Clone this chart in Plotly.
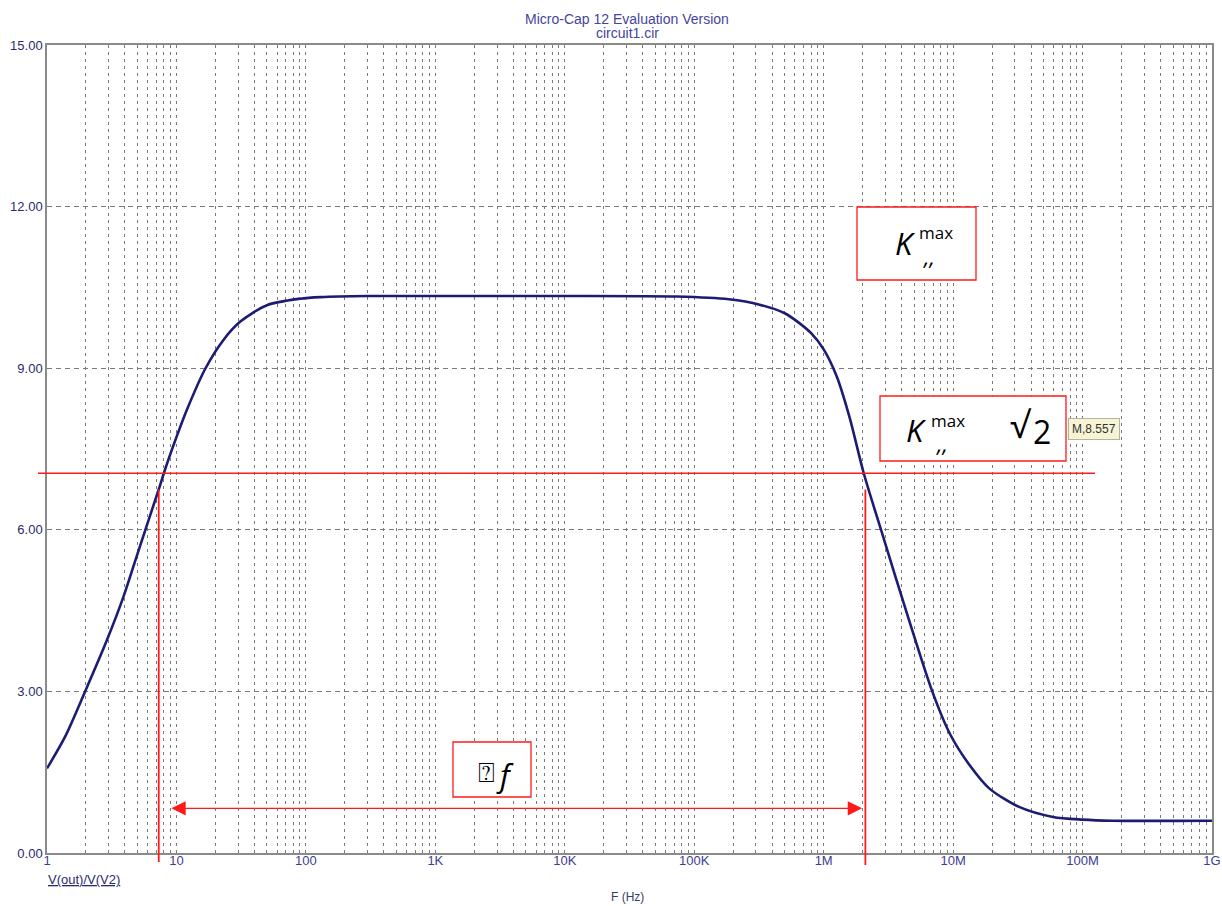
import numpy as np
import plotly.graph_objects as go

# Micro-Cap AC analysis, V(out)/V(V2) vs frequency
freq_hz = [1, 1.38, 1.97, 2.9, 3.9, 5.2, 7.25, 8.3, 10, 12,
           16.7, 23, 31, 50, 90, 130, 300, 1e3, 1e4, 7.3e4,
           1.85e5, 3.2e5, 5e5, 6.3e5, 8e5, 1e6, 1.26e6, 1.58e6, 2.04e6, 2.9e6, 4.2e6,
           6.9e6, 9.5e6, 1.37e7, 1.9e7, 3.2e7, 5.9e7, 1e8, 1.7e8, 1e9]
gain = [1.57, 2.16, 3.0, 3.95, 4.76, 5.68, 6.73, 7.17, 7.72, 8.22,
        8.99, 9.52, 9.86, 10.17, 10.29, 10.32, 10.34, 10.34, 10.34, 10.33,
        10.28, 10.18, 10.02, 9.86, 9.65, 9.35, 8.85, 8.1, 7.05, 5.85, 4.6,
        3.0, 2.2, 1.6, 1.2, 0.86, 0.67, 0.62, 0.60, 0.60]

x_tick_vals = [1, 10, 100, 1e3, 1e4, 1e5, 1e6, 1e7, 1e8, 1e9]
x_tick_text = ["1", "10", "100", "1K", "10K", "100K", "1M", "10M", "100M", "1G"]
y_tick_vals = [0, 3, 6, 9, 12, 15]

# hand-drawn markup: -3dB level, cutoff frequencies, bandwidth arrow
level_3db = 7.05
f_low = 7.3
f_high = 2.1e6
cut_top = 6.75
arrow_left = 8.9
arrow_right = 1.98e6
arrow_y = 0.83
tooltip_text = "M,8.557"

y_max = 15
RED = "#ff1a1a"
NAVY = "#1c1c74"


# pixel position of the 1222x906 picture -> paper coords
def px(x):
    return (x - 47) / 1165.0


def py(y):
    return (853 - y) / 808.0


fig = go.Figure()
fig.add_trace(go.Scatter(x=freq_hz, y=gain, mode="lines",
                         line=dict(color=NAVY, width=2.6, shape="spline", smoothing=0.8),
                         hoverinfo="skip"))

grid_col = "#7a7a7a"
fig.update_xaxes(type="log", range=[0, 9], tickvals=x_tick_vals, ticktext=x_tick_text,
                 showgrid=True, gridcolor=grid_col, gridwidth=1, griddash="3px,4px",
                 minor=dict(dtick="D1", showgrid=True, gridcolor=grid_col, gridwidth=1, griddash="3px,4px"),
                 showline=True, mirror=True, linecolor="#8a8a8a", linewidth=1.5, automargin=False,
                 ticks="", ticklabelstandoff=-5, zeroline=False, tickfont=dict(size=13, color="#3c3c96"))
fig.update_yaxes(range=[0, y_max], tickvals=y_tick_vals, tickformat=".2f",
                 showgrid=True, gridcolor=grid_col, gridwidth=1, griddash="5px,4px",
                 showline=True, mirror=True, linecolor="#8a8a8a", linewidth=1.5, automargin=False,
                 ticks="", zeroline=False, tickfont=dict(size=13, color="#2a2a6e"))

shapes = []
# -3dB horizontal line
shapes.append(dict(type="line", xref="paper", yref="y", x0=px(38), x1=px(1095), y0=level_3db, y1=level_3db,
                   line=dict(color=RED, width=1.3)))
# cutoff verticals
shapes.append(dict(type="line", xref="x", yref="paper", x0=f_low, x1=f_low, y0=py(862), y1=cut_top / y_max,
                   line=dict(color=RED, width=1.8)))
shapes.append(dict(type="line", xref="x", yref="paper", x0=f_high, x1=f_high, y0=py(865), y1=cut_top / y_max,
                   line=dict(color=RED, width=1.8)))
# label boxes
for (x0, y0, x1, y1) in [(857, 207, 976, 280), (880, 396, 1066, 461), (453, 742, 531, 797)]:
    shapes.append(dict(type="rect", xref="paper", yref="paper", x0=px(x0), x1=px(x1), y0=py(y0), y1=py(y1),
                       fillcolor="white", line=dict(color=RED, width=1.3), layer="above"))
fig.update_layout(shapes=shapes)

ann = []


def addLabel(txt, x, y, size, color, family=None, xanchor="center"):
    f = dict(size=size, color=color)
    if family:
        f["family"] = family
    ann.append(dict(text=txt, x=px(x), y=py(y), xref="paper", yref="paper", xanchor=xanchor,
                    yanchor="middle", showarrow=False, font=f))


# title and axis captions
addLabel("Micro-Cap 12 Evaluation Version", 627, 19, 14, "#45459c")
addLabel("circuit1.cir", 627, 33, 14, "#45459c")
addLabel("<u>V(out)/V(V2)</u>", 46, 880, 13, "#2a2a70", xanchor="left")
addLabel("F (Hz)", 627, 897, 12, "#3a3a6a")

# box texts
box_font = "Open Sans, Lato, sans-serif"
addLabel("<i>K</i>", 893, 243, 31, "black", box_font, "left")
addLabel("max", 917, 232, 17, "black", box_font, "left")
addLabel("<i>,,</i>", 921, 256, 22, "black", box_font, "left")

addLabel("<i>K</i>", 904, 430, 31, "black", box_font, "left")
addLabel("max", 929, 420, 17, "black", box_font, "left")
addLabel("<i>,,</i>", 934, 443, 22, "black", box_font, "left")
addLabel("\u221a", 1008, 424, 36, "black", box_font, "left")
addLabel("2", 1031, 431, 32, "black", box_font, "left")

addLabel("\u2370", 476, 771, 28, "black", box_font, "left")
addLabel("<i>f</i>", 494, 775, 31, "black", box_font, "left")

# probe tooltip
ann.append(dict(text=tooltip_text, x=px(1068), y=py(429), xref="paper", yref="paper", xanchor="left",
                yanchor="middle", showarrow=False, bgcolor="#f7f4d6", bordercolor="#b5b39a", borderwidth=1,
                borderpad=3, font=dict(family="Liberation Sans, Arial", size=12, color="#333333")))

# bandwidth arrow
ann.append(dict(x=np.log10(arrow_right), y=arrow_y, ax=np.log10(arrow_left), ay=arrow_y,
                xref="x", yref="y", axref="x", ayref="y", text="", showarrow=True,
                arrowside="end+start", arrowhead=2, startarrowhead=2, arrowsize=2.2, startarrowsize=2.2,
                arrowwidth=1.3, arrowcolor=RED, standoff=0, startstandoff=0))

fig.update_layout(annotations=ann, width=1222, height=906,
                  margin=dict(l=47, r=10, t=45, b=53),
                  plot_bgcolor="white", paper_bgcolor="white", showlegend=False,
                  font=dict(family="Liberation Sans, Arial, sans-serif", size=13, color="#2a2a6e"))

# page body has an 8px default margin, drop it so the figure sits at 0,0
fig.write_html("out.html", config={"displayModeBar": False},
               post_script="document.body.style.margin='0';")
